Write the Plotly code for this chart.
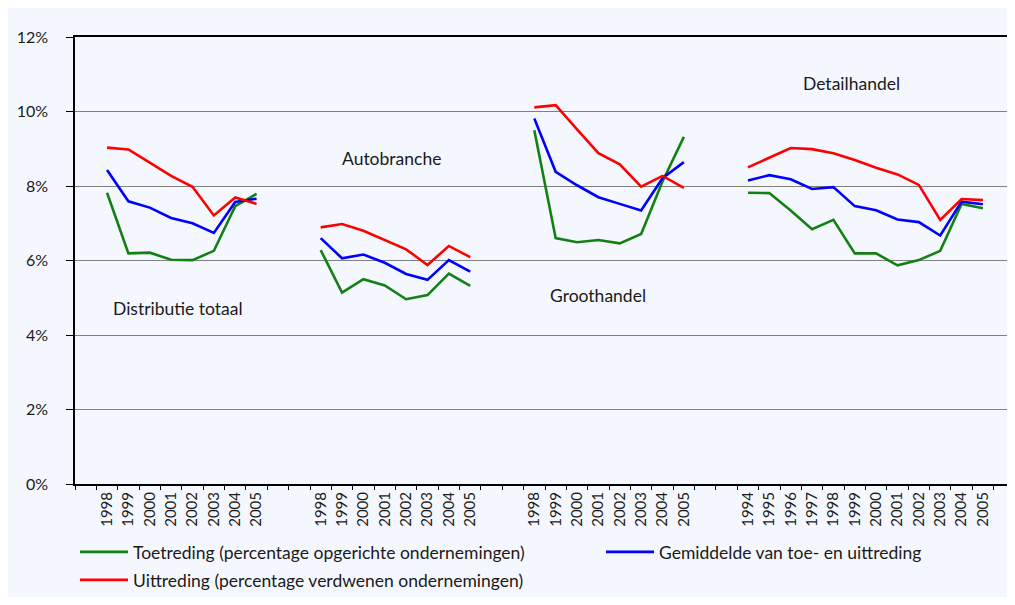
import plotly.graph_objects as go

# ---- data (percentages) ----
group_names = ["Distributie totaal", "Autobranche", "Groothandel", "Detailhandel"]

years_dist = ["1998", "1999", "2000", "2001", "2002", "2003", "2004", "2005"]
toe_dist = [7.82, 6.19, 6.21, 6.02, 6.01, 6.26, 7.46, 7.79]
gem_dist = [8.43, 7.59, 7.42, 7.14, 7.00, 6.74, 7.57, 7.66]
uit_dist = [9.03, 8.98, 8.63, 8.27, 7.98, 7.21, 7.69, 7.52]

years_auto = ["1998", "1999", "2000", "2001", "2002", "2003", "2004", "2005"]
toe_auto = [6.28, 5.14, 5.50, 5.33, 4.96, 5.07, 5.65, 5.32]
gem_auto = [6.60, 6.06, 6.16, 5.94, 5.64, 5.48, 6.01, 5.70]
uit_auto = [6.89, 6.98, 6.80, 6.55, 6.30, 5.88, 6.39, 6.09]

years_groot = ["1998", "1999", "2000", "2001", "2002", "2003", "2004", "2005"]
toe_groot = [9.50, 6.60, 6.49, 6.55, 6.46, 6.71, 8.12, 9.32]
gem_groot = [9.81, 8.38, 8.02, 7.70, 7.52, 7.34, 8.21, 8.64]
uit_groot = [10.11, 10.17, 9.52, 8.88, 8.58, 7.98, 8.27, 7.95]

years_detail = ["1994", "1995", "1996", "1997", "1998", "1999", "2000", "2001",
                "2002", "2003", "2004", "2005"]
toe_detail = [7.82, 7.81, 7.34, 6.84, 7.09, 6.19, 6.19, 5.87, 6.01, 6.26, 7.52, 7.40]
gem_detail = [8.15, 8.29, 8.18, 7.92, 7.97, 7.46, 7.35, 7.10, 7.03, 6.67, 7.58, 7.51]
uit_detail = [8.50, 8.77, 9.02, 8.99, 8.88, 8.70, 8.49, 8.31, 8.03, 7.09, 7.65, 7.62]

series_names = [
    "Toetreding (percentage opgerichte ondernemingen)",
    "Gemiddelde van toe- en uittreding",
    "Uittreding (percentage verdwenen ondernemingen)",
]
y_ticks = [0, 2, 4, 6, 8, 10, 12]
y_ticklabels = ["0%", "2%", "4%", "6%", "8%", "10%", "12%"]

# ---- build slot axis (one blank slot before, two between groups) ----
groups_years = [years_dist, years_auto, years_groot, years_detail]
groups_toe = [toe_dist, toe_auto, toe_groot, toe_detail]
groups_gem = [gem_dist, gem_auto, gem_groot, gem_detail]
groups_uit = [uit_dist, uit_auto, uit_groot, uit_detail]

xs, tickvals, ticktext = [], [], []
toe_all, gem_all, uit_all = [], [], []
slot = 1
for gi, yrs in enumerate(groups_years):
    pos = list(range(slot, slot + len(yrs)))
    tickvals += pos
    ticktext += yrs
    xs += pos
    toe_all += groups_toe[gi]
    gem_all += groups_gem[gi]
    uit_all += groups_uit[gi]
    slot += len(yrs)
    if gi < len(groups_years) - 1:
        xs.append(slot)  # gap marker
        toe_all.append(None)
        gem_all.append(None)
        uit_all.append(None)
        slot += 2

font_family = "Lato, 'Open Sans', sans-serif"
txt_color = "#1a1a1a"
bg = "#F5F7FE"

fig = go.Figure()
fig.add_trace(go.Scatter(x=xs, y=toe_all, mode="lines", name=series_names[0],
                         line=dict(color="#138013", width=2.6), legend="legend"))
fig.add_trace(go.Scatter(x=xs, y=gem_all, mode="lines", name=series_names[1],
                         line=dict(color="#0000FF", width=2.6), legend="legend3"))
fig.add_trace(go.Scatter(x=xs, y=uit_all, mode="lines", name=series_names[2],
                         line=dict(color="#FF0000", width=2.6), legend="legend2"))

# group labels
label_pos = [(4.3, 4.72), (14.33, 8.75), (23.96, 5.07), (35.84, 10.74)]
for name, (lx, ly) in zip(group_names, label_pos):
    fig.add_annotation(x=lx, y=ly, text=name, showarrow=False,
                       font=dict(family=font_family, size=17.5, color=txt_color))

# Page body adds an 8px offset; keep figure inside the window (no scrollbars).
W, H = 999, 589
PH = 447.0
PW = W - 67.0           # plot area runs to the right edge of the figure
SLOT = 940.0 / 44       # slot width of the original (cropped) chart
x_max = -0.5 + PW / SLOT

leg_common = dict(orientation="h", xanchor="left", yanchor="middle",
                  font=dict(family=font_family, size=17.5, color=txt_color),
                  bgcolor="rgba(0,0,0,0)", itemwidth=48)

fig.update_layout(
    width=W, height=H,
    margin=dict(l=67, r=0, t=29, b=H - 29 - PH, autoexpand=False),
    paper_bgcolor=bg, plot_bgcolor=bg,
    font=dict(family=font_family, size=14, color=txt_color),
    showlegend=True,
    legend=dict(x=0.0, y=-(552 - 484) / PH, **leg_common),
    legend3=dict(x=(601 - 75) / PW, y=-(552 - 484) / PH, **leg_common),
    legend2=dict(x=0.0, y=-(580 - 484) / PH, **leg_common),
    xaxis=dict(range=[-0.5, x_max], tickmode="array", tickvals=tickvals,
               ticktext=ticktext, tickangle=-90, ticks="", ticklen=0,
               tickfont=dict(family=font_family, size=15, color=txt_color),
               showgrid=False, zeroline=False, showline=True, linecolor="black",
               linewidth=2, mirror=True,
               minor=dict(tick0=-0.5, dtick=1, ticks="outside", ticklen=4,
                          tickcolor="black", showgrid=False)),
    yaxis=dict(range=[0, 12], tickmode="array", tickvals=y_ticks, ticktext=y_ticklabels,
               ticks="outside", ticklen=7, tickcolor="black", ticklabelstandoff=15,
               tickfont=dict(family=font_family, size=16, color=txt_color),
               showgrid=True, gridcolor="#808080", gridwidth=1, zeroline=False,
               showline=True, linecolor="black", linewidth=1.5),
)

fig.write_html("out.html")
